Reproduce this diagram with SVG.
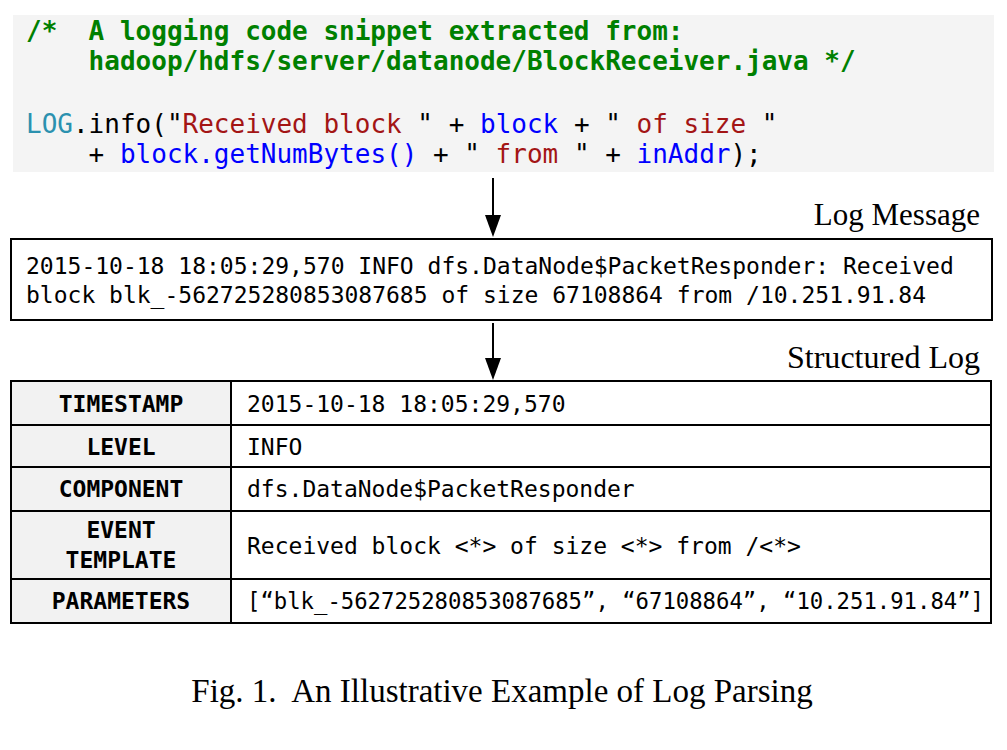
<svg xmlns="http://www.w3.org/2000/svg" width="1007" height="750" viewBox="0 0 1007 750">
<defs>
<style>
.code{font-family:"DejaVu Sans Mono","Liberation Mono",monospace;font-size:26px;}
.cm{fill:#008000;font-weight:bold;}
.cls{fill:#2B91AF;}
.str{fill:#A31515;}
.var{fill:#0000FF;}
.blk{fill:#000;}
.mono{font-family:"DejaVu Sans Mono","Liberation Mono",monospace;font-size:23px;fill:#000;}
.hdr{font-family:"DejaVu Sans Mono","Liberation Mono",monospace;font-size:23px;font-weight:bold;fill:#000;text-anchor:middle;}
.serif{font-family:"Liberation Serif","Times New Roman",serif;fill:#000;}
.box{fill:#fff;stroke:#000;stroke-width:2;}
.line{stroke:#000;stroke-width:2;fill:none;}
</style>
<marker id="ah" markerWidth="22" markerHeight="16" refX="12" refY="8" orient="auto" markerUnits="userSpaceOnUse" viewBox="0 0 22 16">
<path d="M0,0 L22,8 L0,16 Z" fill="#000"/>
</marker>
</defs>
<rect width="1007" height="750" fill="#fff"/>

<g id="code-snippet">
<rect x="13" y="15" width="981" height="157" fill="#f4f4f4"/>
<text class="code cm" x="26" y="40" xml:space="preserve">/*  A logging code snippet extracted from:</text>
<text class="code cm" x="26" y="70" xml:space="preserve">    hadoop/hdfs/server/datanode/BlockReceiver.java */</text>
<text class="code" x="26" y="133" xml:space="preserve"><tspan class="cls">LOG</tspan><tspan class="blk">.info("</tspan><tspan class="str">Received block </tspan><tspan class="blk">" + </tspan><tspan class="var">block</tspan><tspan class="blk"> + "</tspan><tspan class="str"> of size </tspan><tspan class="blk">"</tspan></text>
<text class="code" x="26" y="163" xml:space="preserve"><tspan class="blk">    + </tspan><tspan class="var">block.getNumBytes()</tspan><tspan class="blk"> + "</tspan><tspan class="str"> from </tspan><tspan class="blk">" + </tspan><tspan class="var">inAddr</tspan><tspan class="blk">);</tspan></text>
</g>

<g id="log-message">
<text class="serif" x="980" y="225" font-size="31" text-anchor="end">Log Message</text>
<rect class="box" x="11" y="239" width="981" height="81"/>
<text class="mono" x="26" y="274">2015-10-18 18:05:29,570 INFO dfs.DataNode$PacketResponder: Received</text>
<text class="mono" x="26" y="303">block blk_-562725280853087685 of size 67108864 from /10.251.91.84</text>
</g>

<g id="structured-log">
<text class="serif" x="787" y="368" font-size="31" textLength="193" lengthAdjust="spacingAndGlyphs">Structured Log</text>
<rect x="11" y="381" width="220" height="242" fill="#f2f2f2"/>
<rect x="231" y="381" width="760" height="242" fill="#fff"/>
<rect class="line" x="11" y="381" width="980" height="242"/>
<line class="line" x1="231" y1="381" x2="231" y2="623"/>
<line class="line" x1="11" y1="425" x2="991" y2="425"/>
<line class="line" x1="11" y1="467" x2="991" y2="467"/>
<line class="line" x1="11" y1="511" x2="991" y2="511"/>
<line class="line" x1="11" y1="579" x2="991" y2="579"/>
<g id="row-timestamp">
<text class="hdr" x="121" y="412">TIMESTAMP</text>
<text class="mono" x="247" y="412">2015-10-18 18:05:29,570</text>
</g>
<g id="row-level">
<text class="hdr" x="121" y="455">LEVEL</text>
<text class="mono" x="247" y="455">INFO</text>
</g>
<g id="row-component">
<text class="hdr" x="121" y="497">COMPONENT</text>
<text class="mono" x="247" y="497">dfs.DataNode$PacketResponder</text>
</g>
<g id="row-event-template">
<text class="hdr" x="121" y="538">EVENT</text>
<text class="hdr" x="121" y="568">TEMPLATE</text>
<text class="mono" x="247" y="554">Received block &lt;*&gt; of size &lt;*&gt; from /&lt;*&gt;</text>
</g>
<g id="row-parameters">
<text class="hdr" x="121" y="609">PARAMETERS</text>
<text class="mono" x="247" y="609" textLength="737" lengthAdjust="spacingAndGlyphs">[“blk_-562725280853087685”, “67108864”, “10.251.91.84”]</text>
</g>
</g>

<g id="connectors">
<line class="line" x1="493" y1="178" x2="493" y2="227" marker-end="url(#ah)"/>
<line class="line" x1="493" y1="323" x2="493" y2="370" marker-end="url(#ah)"/>
</g>

<text class="serif" x="502" y="702" font-size="33" text-anchor="middle" xml:space="preserve">Fig. 1.  An Illustrative Example of Log Parsing</text>
</svg>
